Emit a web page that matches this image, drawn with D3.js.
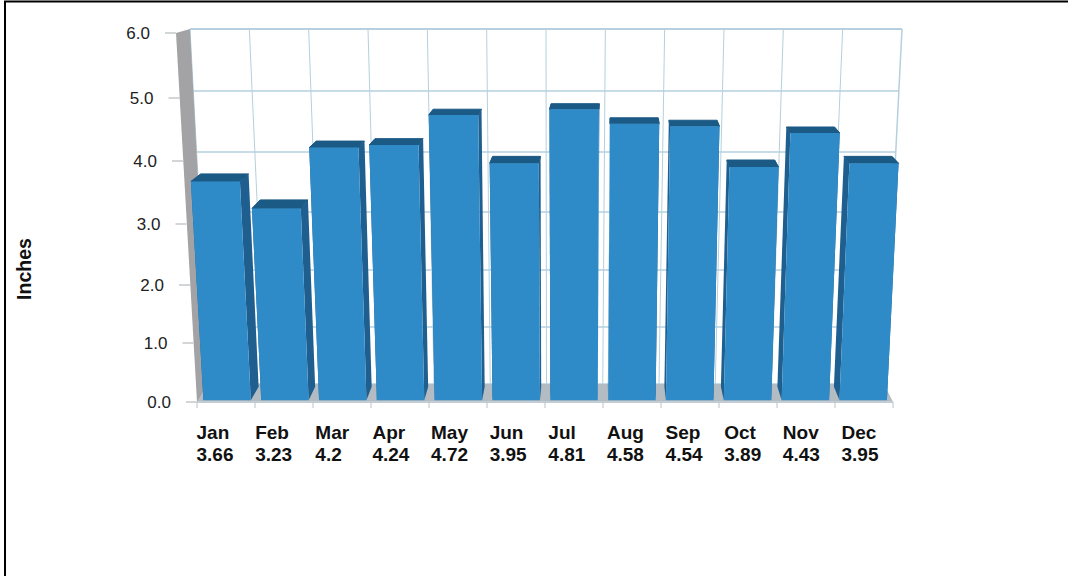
<!DOCTYPE html>
<html><head><meta charset="utf-8">
<script src="https://cdn.jsdelivr.net/npm/d3@7/dist/d3.min.js"></script>
<style>html,body{margin:0;padding:0;background:#fff}svg{display:block}</style>
</head><body><svg id="c" width="1068" height="576"></svg>
<script>
const months = ["Jan","Feb","Mar","Apr","May","Jun","Jul","Aug","Sep","Oct","Nov","Dec"];
const rainfall = [3.66,3.23,4.2,4.24,4.72,3.95,4.81,4.58,4.54,3.89,4.43,3.95];
const rainfallLabels = ["3.66","3.23","4.2","4.24","4.72","3.95","4.81","4.58","4.54","3.89","4.43","3.95"];
const yTicks = [0,1,2,3,4,5,6];
const yTickLabels = ["0.0","1.0","2.0","3.0","4.0","5.0","6.0"];

const svg = d3.select("#c");
// perspective scales: value -> screen y on the front / back planes
const yFront = d3.scaleLinear().domain(yTicks).range([402,343,285,224,161,98,33]);
const yBack  = d3.scaleLinear().domain(yTicks).range([384,327,270,212,152,91,29]);
const xLFront = d3.scaleLinear().domain([0,6]).range([197,176]);
const xRFront = d3.scaleLinear().domain([0,6]).range([893,911]);
const xLBack  = d3.scaleLinear().domain([0,6]).range([209,190]);
const xRBack  = d3.scaleLinear().domain([0,6]).range([884,902]);
const uScale = d3.scaleBand().domain(months).range([0,1]).paddingInner(0);
const labelCenter = d3.scalePoint().domain(months).range([215,860]);

function P(u,v,d){
  const yf=yFront(v), yb=yBack(v);
  const l=xLFront(v)+(xLBack(v)-xLFront(v))*d;
  const r=xRFront(v)+(xRBack(v)-xRFront(v))*d;
  return [l+(r-l)*u, yf+(yb-yf)*d];
}
const line=d3.line();
const poly=(pts,fill,stroke,sw)=>svg.append("path").attr("d",line(pts)+"Z").attr("fill",fill)
  .attr("stroke",stroke||"none").attr("stroke-width",sw||0).attr("stroke-linejoin","round");

// outer border: top and left only
svg.append("path").attr("d","M5,576V1.5H1068").attr("fill","none").attr("stroke","#000").attr("stroke-width",2);

// back wall grid
const grid="#b5d0de";
yTicks.forEach(t=>{
  svg.append("path").attr("d",line([P(0,t,1),P(1,t,1)])).attr("stroke",grid).attr("stroke-width",t===6?2:1.5).attr("fill","none");
});
d3.range(0,13).forEach(i=>{
  const u=i/12;
  svg.append("path").attr("d",line([P(u,6,1),P(u,0,1)])).attr("stroke",grid).attr("stroke-width",i===12?1.5:1).attr("fill","none");
});
// floor and left wall
poly([P(0,0,0),P(1,0,0),P(1,0,1),P(0,0,1)],"#b3bcc2");
poly([P(0,0,0),P(0,6,0),P(0,6,1),P(0,0,1)],"#a3a3a5");
// front axis lines and ticks
svg.append("path").attr("d",line([P(0,0,0),P(1,0,0)])).attr("stroke","#c2ccd2").attr("stroke-width",2).attr("fill","none");
d3.range(0,13).forEach(i=>{
  const p=P(i/12,0,0);
  svg.append("line").attr("x1",p[0]).attr("x2",p[0]).attr("y1",p[1]).attr("y2",p[1]+6).attr("stroke","#b8c2c8");
});
yTicks.forEach((t,i)=>{
  const p=P(0,t,0);
  svg.append("path").attr("d",line([[p[0]-11,p[1]],p])).attr("stroke","#c4c8ca").attr("stroke-width",1.5).attr("fill","none");
  svg.append("text").attr("x",p[0]-26).attr("y",p[1]+5.5).attr("text-anchor","end")
    .attr("font-family","Liberation Sans").attr("font-size",17).attr("fill","#222").text(yTickLabels[i]);
});

// bars, painted from outside toward the vanishing centre
const d1=0.1, d2=0.85, pad=0.09/12, barW=0.82/12;
const order=d3.range(12).sort((a,b)=>Math.abs(b-5.4)-Math.abs(a-5.4));
order.forEach(i=>{
  const v=rainfall[i], u0=uScale(months[i])+pad, u1=u0+barW;
  // side faces
  poly([P(u1,0,d1),P(u1,v,d1),P(u1,v,d2),P(u1,0,d2)],"#1f5f8f");
  poly([P(u0,0,d1),P(u0,v,d1),P(u0,v,d2),P(u0,0,d2)],"#1f5f8f");
  // top
  poly([P(u0,v,d1),P(u1,v,d1),P(u1,v,d2),P(u0,v,d2)],"#1c5a86","#1c5a86",1);
  // front
  poly([P(u0,0,d1),P(u1,0,d1),P(u1,v,d1),P(u0,v,d1)],"#2f8bc8");
});

// month + value labels: each two-line block is centred, its lines left-aligned
months.forEach((m,i)=>{
  const a=svg.append("text").attr("y",439).attr("font-family","Liberation Sans").attr("font-weight","bold")
    .attr("font-size",19).attr("fill","#111").text(m);
  const b=svg.append("text").attr("y",461).attr("font-family","Liberation Sans").attr("font-weight","bold")
    .attr("font-size",19).attr("fill","#111").text(rainfallLabels[i]);
  const w=Math.max(a.node().getComputedTextLength(),b.node().getComputedTextLength());
  const x=labelCenter(m)-w/2;
  a.attr("x",x); b.attr("x",x);
});
svg.append("text").attr("transform","translate(31,269) rotate(-90)").attr("text-anchor","middle")
  .attr("font-family","Liberation Sans").attr("font-weight","bold").attr("font-size",19.5).attr("fill","#111").text("Inches");
</script></body></html>
